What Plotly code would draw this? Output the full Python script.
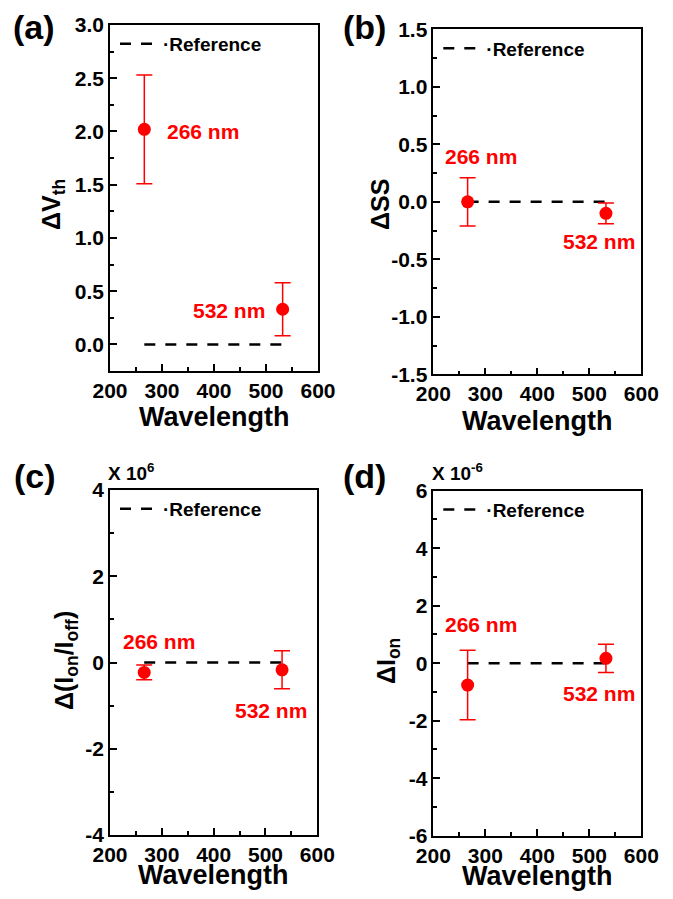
import plotly.graph_objects as go

# ---------------- data ----------------
wavelength = [266, 532]
ref_x = [266, 532]
ref_y = [0, 0]

dvth = [2.02, 0.33]
dvth_err = [0.51, 0.25]

dss = [0.0, -0.10]
dss_err = [0.21, 0.09]

dratio = [-0.23, -0.17]        # in units of 10^6
dratio_err = [0.17, 0.44]

dion = [-0.76, 0.17]           # in units of 10^-6
dion_err = [1.21, 0.49]

point_labels = ["266 nm", "532 nm"]
x_title = "Wavelength"
y_titles = ["ΔV<sub>th</sub>", "ΔSS", "Δ(I<sub>on</sub>/I<sub>off</sub>)", "ΔI<sub>on</sub>"]
x_ticks = [200, 300, 400, 500, 600]
a_ticks = [0.0, 0.5, 1.0, 1.5, 2.0, 2.5, 3.0]
a_ticktext = ["0.0", "0.5", "1.0", "1.5", "2.0", "2.5", "3.0"]
b_ticks = [-1.5, -1.0, -0.5, 0.0, 0.5, 1.0, 1.5]
b_ticktext = ["-1.5", "-1.0", "-0.5", "0.0", "0.5", "1.0", "1.5"]
c_ticks = [-4, -2, 0, 2, 4]
c_ticktext = ["-4", "-2", "0", "2", "4"]
d_ticks = [-6, -4, -2, 0, 2, 4, 6]
d_ticktext = ["-6", "-4", "-2", "0", "2", "4", "6"]

FONT = "Liberation Sans, Arial, sans-serif"
RED = "#ff0000"

# page body adds an 8px margin; size the figure so it fits the window
OFF = 8
W = 673 - 2 * OFF
H = 899 - 2 * OFF


def px_x(px):
    return (px - OFF) / W


def px_y(py):
    return 1 - (py - OFF) / H


fig = go.Figure()

panels = [
    # suffix, values, errors, ticks, ticktext, range, minor step, y title,
    # box x px, box y px, legend, y-title centre px, x-title centre y px
    ("", dvth, dvth_err, a_ticks, a_ticktext, [-0.25, 3.0], 0.25, y_titles[0],
     (110, 318), (25, 371), "legend", (53, 205), 417),
    ("2", dss, dss_err, b_ticks, b_ticktext, [-1.5, 1.5], 0.25, y_titles[1],
     (433.3, 641.3), (29.3, 374.3), "legend2", (380, 205), 421),
    ("3", dratio, dratio_err, c_ticks, c_ticktext, [-4, 4], 1, y_titles[2],
     (110, 317.3), (490, 835), "legend3", (66, 661), 875),
    ("4", dion, dion_err, d_ticks, d_ticktext, [-6, 6], 1, y_titles[3],
     (433.3, 641.3), (490.7, 835.7), "legend4", (388, 661), 876),
]

layout = dict(
    width=W, height=H,
    margin=dict(l=0, r=0, t=0, b=0, autoexpand=False),
    paper_bgcolor="white", plot_bgcolor="white",
    font=dict(family=FONT, color="black"),
    annotations=[],
)

for (sfx, yv, ev, yt, ytt, yr, mdt, ytitle, (L, R), (T, B), lg, (ytx, yty), xty) in panels:
    xa = "x" + sfx
    ya = "y" + sfx
    fig.add_trace(go.Scatter(
        x=ref_x, y=ref_y, mode="lines", xaxis=xa, yaxis=ya,
        line=dict(color="black", width=2.5, dash="11px,10px"),
        name="·Reference", legend=lg, showlegend=True,
    ))
    fig.add_trace(go.Scatter(
        x=wavelength, y=yv, mode="markers", xaxis=xa, yaxis=ya,
        marker=dict(color=RED, size=13),
        error_y=dict(type="data", array=ev, visible=True, color=RED,
                     thickness=1.5, width=8),
        showlegend=False,
    ))
    layout["xaxis" + sfx] = dict(
        domain=[px_x(L), px_x(R)], anchor=ya, range=[200, 600], tickvals=x_ticks,
        automargin=False,
        ticks="inside", ticklen=7, tickwidth=1.5, tickcolor="black",
        minor=dict(dtick=50, tick0=200, ticks="inside", ticklen=4, tickwidth=1.5, tickcolor="black"),
        showline=True, linecolor="black", linewidth=1.5, mirror=True,
        showgrid=False, zeroline=False,
        tickfont=dict(family=FONT, size=21, weight="bold", color="black"),
    )
    layout["yaxis" + sfx] = dict(
        domain=[px_y(B), px_y(T)], anchor=xa, range=yr, tickvals=yt, ticktext=ytt,
        automargin=False,
        ticks="inside", ticklen=7, tickwidth=1.5, tickcolor="black",
        minor=dict(dtick=mdt, tick0=0, ticks="inside", ticklen=4, tickwidth=1.5, tickcolor="black"),
        showline=True, linecolor="black", linewidth=1.5, mirror=True,
        showgrid=False, zeroline=False,
        tickfont=dict(family=FONT, size=21, weight="bold", color="black"),
    )
    layout[lg] = dict(
        x=px_x(L + 5), y=px_y(T + 19), xanchor="left", yanchor="middle",
        bgcolor="rgba(0,0,0,0)", borderwidth=0, itemwidth=38,
        font=dict(family=FONT, size=19, weight="bold", color="black"),
    )
    # axis titles
    layout["annotations"].append(dict(
        x=px_x((L + R) / 2), y=px_y(xty), xref="paper", yref="paper", text=x_title,
        showarrow=False, xanchor="center", yanchor="middle",
        font=dict(family=FONT, size=27, weight="bold", color="black"),
    ))
    layout["annotations"].append(dict(
        x=px_x(ytx), y=px_y(yty), xref="paper", yref="paper", text=ytitle,
        showarrow=False, xanchor="center", yanchor="middle", textangle=-90,
        font=dict(family=FONT, size=25, weight="bold", color="black"),
    ))

label_pos = [
    ("", [(306, 2.0, "left"), (502, 0.32, "right")]),
    ("2", [(291.7, 0.39, "center"), (517.7, -0.347, "center")]),
    ("3", [(294.2, 0.48, "center"), (510, -1.12, "center")]),
    ("4", [(291.7, 1.33, "center"), (517.7, -1.07, "center")]),
]
for sfx, items in label_pos:
    for txt, (lx, ly, anc) in zip(point_labels, items):
        layout["annotations"].append(dict(
            x=lx, y=ly, xref="x" + sfx, yref="y" + sfx, text=txt, showarrow=False,
            xanchor=anc, yanchor="middle",
            font=dict(family=FONT, size=21, weight="bold", color=RED),
        ))

for txt, px, py in [("(a)", 34, 27), ("(b)", 364, 27), ("(c)", 35, 476), ("(d)", 364, 476)]:
    layout["annotations"].append(dict(
        x=px_x(px), y=px_y(py), xref="paper", yref="paper", text=txt, showarrow=False,
        xanchor="center", yanchor="middle",
        font=dict(family=FONT, size=34, weight="bold", color="black"),
    ))

for txt, px in [("X 10<sup>6</sup>", 106), ("X 10<sup>-6</sup>", 430)]:
    layout["annotations"].append(dict(
        x=px_x(px), y=px_y(472), xref="paper", yref="paper", text=txt, showarrow=False,
        xanchor="left", yanchor="middle",
        font=dict(family=FONT, size=19, weight="bold", color="black"),
    ))

fig.update_layout(**layout)
fig.write_html("out.html")
